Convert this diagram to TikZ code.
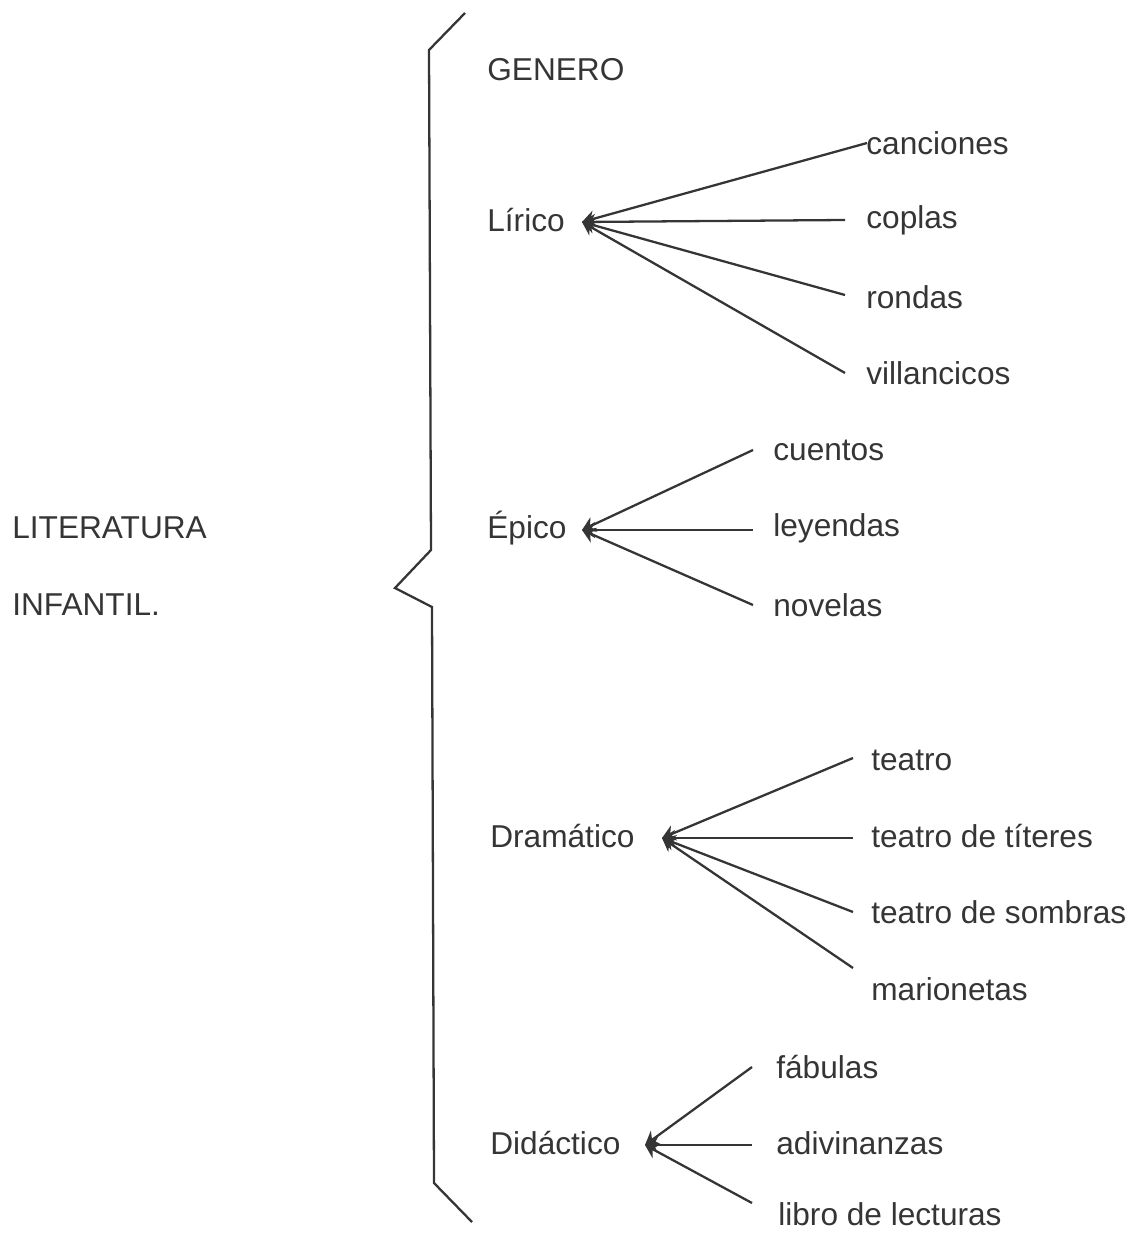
\documentclass[tikz,border=0pt]{standalone}
\usepackage{fontspec}
\setmainfont{Liberation Sans}
\usetikzlibrary{arrows.meta}
\definecolor{ink}{HTML}{353535}
\begin{document}
\begin{tikzpicture}[x=0.02cm,y=-0.02cm,
  lbl/.style={anchor=west,inner sep=0pt,text=ink,font=\fontsize{18}{20}\selectfont},
  arr/.style={draw=ink,line width=1.3pt,-{Stealth[length=0.26cm,width=0.32cm]}},
  brace/.style={draw=ink,line width=1.3pt,line join=miter}]
\useasboundingbox (0,0) rectangle (1135,1233);
% brace
\draw[brace] (465,13) -- (429,50) -- (431,550) -- (395,588) -- (432,607) -- (434,1183) -- (472,1222);
% left title
\node[lbl] (lit) at (12,528) {LITERATURA};
\node[lbl] (inf) at (12,605) {INFANTIL.};
\node[lbl] (gen) at (487,70) {GENERO};
% Lirico
\node[lbl] (lir) at (487,220) {Lírico};
\coordinate (lirh) at (582,222);
\node[lbl] (l1) at (866,143) {canciones};
\node[lbl] (l2) at (866,220) {coplas};
\node[lbl] (l3) at (866,297) {rondas};
\node[lbl] (l4) at (866,373) {villancicos};
\coordinate (l1e) at (867,143);
\coordinate (l2e) at (845,220);
\coordinate (l3e) at (845,295);
\coordinate (l4e) at (845,373);
\foreach \e in {l1e,l2e,l3e,l4e} \draw[arr] (\e) -- (lirh);
% Epico
\node[lbl] (epi) at (487,528) {Épico};
\coordinate (epih) at (582,530);
\node[lbl] (e1) at (773,450) {cuentos};
\node[lbl] (e2) at (773,528) {leyendas};
\node[lbl] (e3) at (773,605) {novelas};
\coordinate (e1e) at (753,450);
\coordinate (e2e) at (753,530);
\coordinate (e3e) at (753,605);
\foreach \e in {e1e,e2e,e3e} \draw[arr] (\e) -- (epih);
% Dramatico
\node[lbl] (dra) at (490,836) {Dramático};
\coordinate (drah) at (662,838);
\node[lbl] (d1) at (871,760) {teatro};
\node[lbl] (d2) at (871,836) {teatro de títeres};
\node[lbl] (d3) at (871,912) {teatro de sombras};
\node[lbl] (d4) at (871,989) {marionetas};
\coordinate (d1e) at (853,758);
\coordinate (d2e) at (853,838);
\coordinate (d3e) at (853,912);
\coordinate (d4e) at (853,968);
\foreach \e in {d1e,d2e,d3e,d4e} \draw[arr] (\e) -- (drah);
% Didactico
\node[lbl] (did) at (490,1143) {Didáctico};
\coordinate (didh) at (645,1145);
\node[lbl] (f1) at (776,1067) {fábulas};
\node[lbl] (f2) at (776,1143) {adivinanzas};
\node[lbl] (f3) at (778,1214) {libro de lecturas};
\coordinate (f1e) at (752,1067);
\coordinate (f2e) at (752,1145);
\coordinate (f3e) at (752,1203);
\foreach \e in {f1e,f2e,f3e} \draw[arr] (\e) -- (didh);
\end{tikzpicture}
\end{document}
